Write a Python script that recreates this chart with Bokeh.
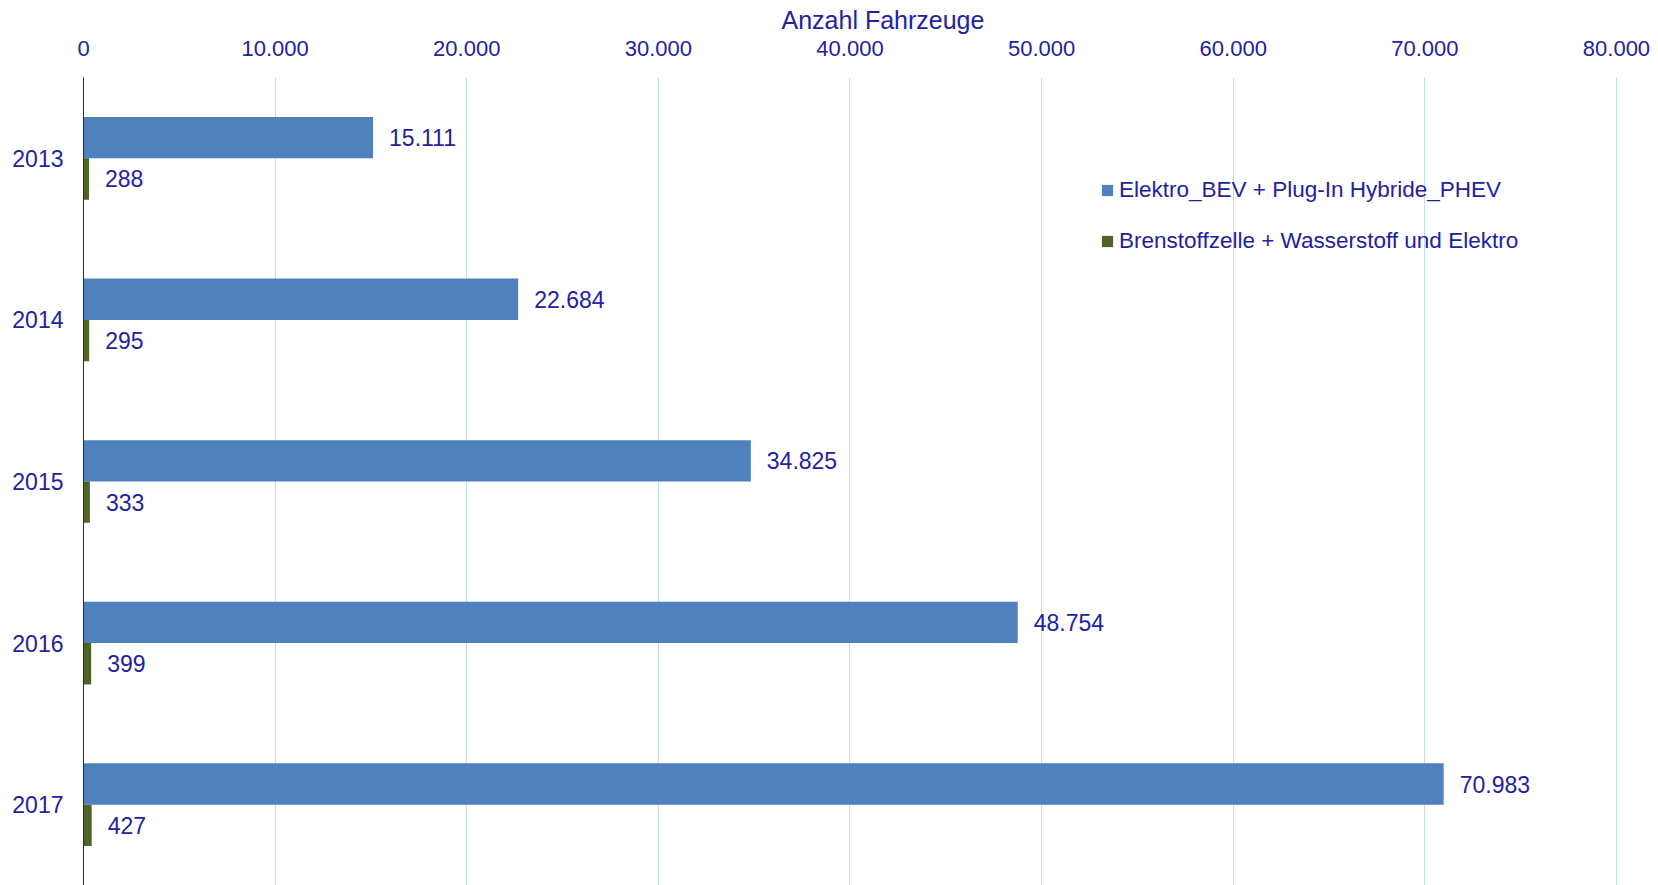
from bokeh.plotting import figure
from bokeh.models import (ColumnDataSource, FactorRange, Range1d, FixedTicker,
                          CustomJSTickFormatter, Legend, LegendItem, LinearAxis)
from bokeh.transform import dodge
from bokeh.core.properties import value
from bokeh.embed import file_html
from bokeh.resources import INLINE

years = ["2013", "2014", "2015", "2016", "2017"]
bev_phev = [15111, 22684, 34825, 48754, 70983]
fcev = [288, 295, 333, 399, 427]
x_ticks = [0, 10000, 20000, 30000, 40000, 50000, 60000, 70000, 80000]
series_names = ["Elektro_BEV + Plug-In Hybride_PHEV",
                "Brenstoffzelle + Wasserstoff und Elektro"]
title_text = "Anzahl Fahrzeuge"

BLUE = "#4f81bd"
GREEN = "#4f6228"
TXT = "#2222a0"
FONT = "Liberation Sans"


def de_fmt(v):
    return f"{v:,}".replace(",", ".")


src = ColumnDataSource(dict(
    year=years,
    bev=bev_phev,
    fcev=fcev,
    bev_lbl=[de_fmt(v) for v in bev_phev],
    fcev_lbl=[de_fmt(v) for v in fcev],
))

p = figure(width=1650, height=885,
           y_range=FactorRange(factors=years[::-1], range_padding=0),
           x_range=Range1d(0, 81150),
           x_axis_location="above",
           output_backend="svg", toolbar_location=None,
           min_border_left=83, min_border_right=12, min_border_bottom=0,
           min_border_top=0)

p.outline_line_color = None
p.background_fill_color = "white"
p.border_fill_color = "white"

r1 = p.hbar(y=dodge("year", 0.128, range=p.y_range), left=0, right="bev",
            height=0.256, source=src, fill_color=BLUE, line_color=None)
r2 = p.hbar(y=dodge("year", -0.128, range=p.y_range), left=0, right="fcev",
            height=0.256, source=src, fill_color=GREEN, line_color=None)

p.text(x="bev", y=dodge("year", 0.128, range=p.y_range), text="bev_lbl",
       source=src, x_offset=16, text_baseline="middle", text_align="left",
       text_font=value(FONT), text_font_size="23px", text_color=TXT)
p.text(x="fcev", y=dodge("year", -0.128, range=p.y_range), text="fcev_lbl",
       source=src, x_offset=16, text_baseline="middle", text_align="left",
       text_font=value(FONT), text_font_size="23px", text_color=TXT)

# x axis (top)
xa = p.xaxis[0]
xa.ticker = FixedTicker(ticks=x_ticks)
xa.formatter = CustomJSTickFormatter(code="""
    return Math.round(tick).toString().replace(/\\B(?=(\\d{3})+(?!\\d))/g, '.');
""")
xa.axis_line_color = None
xa.major_tick_line_color = None
xa.major_tick_out = 0
xa.major_tick_in = 0
xa.minor_tick_line_color = None
xa.minor_tick_out = 0
xa.major_label_standoff = 22
xa.major_label_text_font = FONT
xa.major_label_text_font_size = "22px"
xa.major_label_text_color = TXT

# invisible spacer between axis labels and title
spacer = LinearAxis(ticker=FixedTicker(ticks=[]), axis_line_color=None,
                    major_tick_line_color="white", minor_tick_line_color=None,
                    major_tick_out=10, major_tick_in=0, minor_tick_out=0,
                    minor_tick_in=0, major_label_standoff=0)
p.add_layout(spacer, "above")

# y axis
ya = p.yaxis[0]
ya.axis_line_color = "#1f2d4a"
ya.axis_line_width = 1
ya.major_tick_line_color = None
ya.major_tick_out = 0
ya.major_tick_in = 0
ya.minor_tick_line_color = None
ya.minor_tick_out = 0
ya.major_label_standoff = 20
ya.major_label_text_font = FONT
ya.major_label_text_font_size = "23px"
ya.major_label_text_color = TXT

p.xgrid.grid_line_color = "#c6d9f1"
p.xgrid.grid_line_width = 1
p.ygrid.grid_line_color = None

p.title.text = title_text
p.title.align = "left"
p.title.offset = 698
p.title.text_font = FONT
p.title.text_font_size = "25px"
p.title.text_font_style = "normal"
p.title.text_color = TXT
p.title.standoff = 7

legend = Legend(items=[LegendItem(label=series_names[0], renderers=[r1]),
                       LegendItem(label=series_names[1], renderers=[r2])],
                location=(1017, 631), orientation="vertical",
                glyph_width=14, glyph_height=14, label_height=22,
                spacing=25, padding=0, margin=0, label_standoff=5,
                label_text_font=FONT, label_text_font_size="22.5px",
                label_text_color=TXT, border_line_color=None,
                background_fill_alpha=0)
p.add_layout(legend)

open("out.html", "w").write(file_html(p, INLINE))
